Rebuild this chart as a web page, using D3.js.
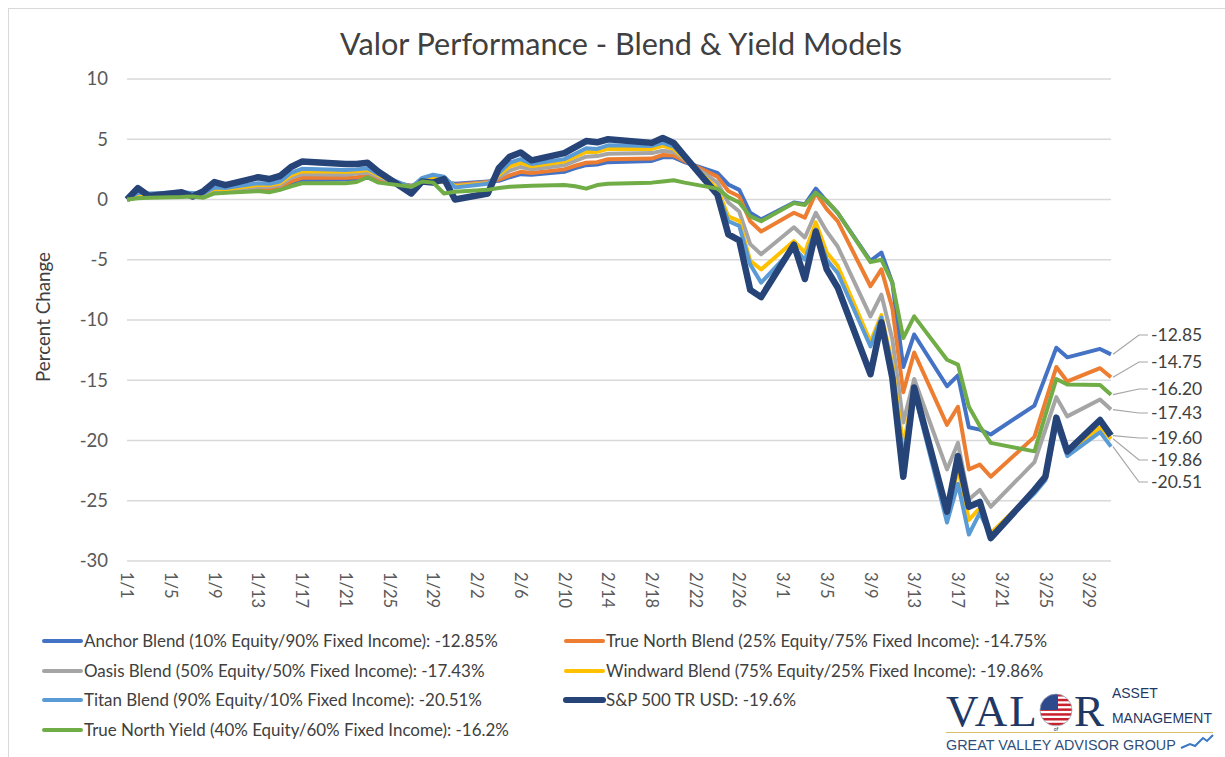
<!DOCTYPE html>
<html>
<head>
<meta charset="utf-8">
<script src="https://cdn.jsdelivr.net/npm/d3@7"></script>
<style>
body{margin:0;background:#fff;}
text{font-family:Lato,"Open Sans",sans-serif;}
</style>
</head>
<body>
<script>
// trading days plotted (3/23 is missing in the source chart)
var dates=["1/1","1/2","1/3","1/6","1/7","1/8","1/9","1/10","1/13","1/14","1/15","1/16","1/17","1/21","1/22","1/23","1/24","1/27","1/28","1/29","1/30","1/31",
  "2/3","2/4","2/5","2/6","2/7","2/10","2/11","2/12","2/13","2/14","2/18","2/19","2/20","2/21","2/24","2/25","2/26","2/27","2/28",
  "3/2","3/3","3/4","3/5","3/6","3/9","3/10","3/11","3/12","3/13","3/16","3/17","3/18","3/19","3/20","3/24","3/25","3/26","3/27","3/30","3/31"]

var anchorBlend=[0,0.2,0.35,0.45,0.5,0.35,0.55,0.6,0.8,0.8,0.95,1.3,1.6,1.65,1.7,1.8,1.6,1.15,1.4,1.45,1.45,1.3,
  1.5,1.55,1.85,2.1,2.05,2.3,2.6,2.85,2.9,3.1,3.2,3.5,3.5,3.1,2.2,1.25,0.8,-1.1,-1.65,
  -0.25,-0.4,0.9,-0.15,-1.1,-5.1,-4.4,-6.9,-13.9,-11.2,-15.5,-14.6,-18.9,-19.1,-19.5,-17.1,-14.7,-12.3,-13.1,-12.4,-12.85]
var trueNorthBlend=[0,0.25,0.35,0.45,0.45,0.35,0.65,0.65,0.9,0.9,1.05,1.5,1.8,1.8,1.85,1.95,1.7,1.1,1.45,1.5,1.5,1.2,
  1.45,1.65,2.0,2.3,2.2,2.5,2.8,3.05,3.1,3.35,3.4,3.7,3.65,3.2,1.9,0.7,0.25,-1.8,-2.65,
  -1.1,-1.5,0.55,-0.8,-1.8,-7.2,-5.8,-9.0,-16.0,-12.7,-18.7,-17.2,-22.4,-22.0,-23.0,-19.7,-16.8,-13.9,-15.1,-14.0,-14.75]
var oasisBlend=[0,0.35,0.4,0.5,0.45,0.4,0.8,0.75,1.05,1.05,1.2,1.8,2.1,2.05,2.15,2.25,1.85,1.05,1.6,1.7,1.65,1.15,
  1.4,1.85,2.4,2.7,2.5,2.85,3.2,3.55,3.6,3.8,3.85,4.05,3.95,3.3,1.4,-0.25,-1.0,-3.7,-4.55,
  -2.3,-3.15,-1.1,-2.65,-3.9,-9.7,-7.9,-11.6,-18.5,-14.9,-22.4,-20.2,-24.9,-24.1,-25.5,-21.8,-19.1,-16.4,-18.0,-16.6,-17.43]
var windwardBlend=[0,0.45,0.45,0.55,0.5,0.45,0.9,0.85,1.2,1.2,1.35,2.0,2.35,2.3,2.35,2.45,2.0,1.0,1.7,1.85,1.8,1.1,
  1.35,2.05,2.75,3.05,2.75,3.15,3.55,3.95,3.95,4.2,4.2,4.45,4.2,3.4,0.9,-1.4,-1.8,-5.1,-5.8,
  -3.45,-4.4,-1.9,-4.4,-5.5,-11.8,-9.6,-13.6,-20.5,-15.6,-26.5,-22.3,-26.6,-25.6,-27.7,-24.2,-23.1,-18.3,-21.0,-18.9,-19.86]
var titanBlend=[0,0.55,0.5,0.6,0.55,0.5,1.0,0.95,1.35,1.3,1.5,2.2,2.55,2.45,2.5,2.6,2.1,1.0,1.8,2.05,1.9,1.0,
  1.3,2.2,3.05,3.35,2.95,3.35,3.8,4.25,4.2,4.5,4.45,4.7,4.4,3.5,0.6,-1.8,-2.2,-5.4,-6.9,
  -4.0,-5.0,-2.5,-5.0,-6.1,-12.2,-9.8,-14.0,-21.5,-16.0,-26.8,-23.6,-27.8,-26.0,-27.9,-24.4,-23.3,-18.6,-21.3,-19.3,-20.51]
var sp500=[0,0.95,0.3,0.6,0.25,0.7,1.45,1.2,1.85,1.7,1.95,2.7,3.15,2.95,2.95,3.05,2.3,0.5,1.5,1.4,1.7,0.0,
  0.5,2.6,3.55,3.9,3.25,3.85,4.35,4.85,4.75,5.0,4.7,5.1,4.7,3.6,0.4,-2.9,-3.4,-7.5,-8.1,
  -3.75,-6.6,-2.65,-5.8,-7.3,-14.5,-10.2,-14.8,-23.0,-15.6,-25.9,-21.3,-25.5,-25.1,-28.1,-24.1,-23.0,-18.1,-20.9,-18.3,-19.6]
var trueNorthYield=[0,0.1,0.15,0.2,0.25,0.15,0.5,0.55,0.7,0.6,0.8,1.1,1.35,1.35,1.45,1.85,1.4,1.05,1.5,1.4,0.5,0.65,
  0.8,0.95,1.05,1.1,1.15,1.2,1.1,0.9,1.2,1.3,1.4,1.5,1.6,1.4,0.9,0.2,-0.25,-1.4,-1.8,
  -0.3,-0.45,0.55,-0.1,-1.1,-5.2,-5.0,-6.9,-11.5,-9.7,-13.3,-13.7,-17.2,-18.8,-20.2,-20.9,-17.9,-14.9,-15.35,-15.4,-16.2]

var seriesNames=["Anchor Blend (10% Equity/90% Fixed Income)","True North Blend (25% Equity/75% Fixed Income)",
  "Oasis Blend (50% Equity/50% Fixed Income)","Windward Blend (75% Equity/25% Fixed Income)",
  "Titan Blend (90% Equity/10% Fixed Income)","S&P 500 TR USD","True North Yield (40% Equity/60% Fixed Income)"]
var seriesValues=[anchorBlend,trueNorthBlend,oasisBlend,windwardBlend,titanBlend,sp500,trueNorthYield]
var yTicks=[10,5,0,-5,-10,-15,-20,-25,-30]
var xTickLabels=["1/1","1/5","1/9","1/13","1/17","1/21","1/25","1/29","2/2","2/6","2/10","2/14","2/18","2/22","2/26","3/1","3/5","3/9","3/13","3/17","3/21","3/25","3/29"]

// styles
var colors=["#4472C4","#ED7D31","#A5A5A5","#FFC000","#5B9BD5","#264478","#70AD47"]
var widths=[4,4,4,4,4,6.5,4]

var toDate=function(s){var p=s.split("/");return new Date(2020,+p[0]-1,+p[1])}

var W=1225,H=757
var svg=d3.select("body").append("svg").attr("width",W).attr("height",H)

svg.append("rect").attr("x",8.5).attr("y",8.5).attr("width",W).attr("height",H)
   .attr("fill","none").attr("stroke","#d9d9d9")

var xScale=d3.scaleTime()
   .domain([new Date(2020,0,1),new Date(2020,2,31)])
   .range([127,1111])
var yScale=d3.scaleLinear().domain([-30,10]).range([561,79])

// gridlines
svg.append("g").selectAll("line").data(yTicks).enter().append("line")
   .attr("x1",127).attr("x2",1111)
   .attr("y1",function(d){return yScale(d)}).attr("y2",function(d){return yScale(d)})
   .attr("stroke","#d9d9d9").attr("stroke-width",1.3)

// y labels
svg.append("g").selectAll("text").data(yTicks).enter().append("text")
   .attr("x",108).attr("y",function(d){return yScale(d)}).attr("dy","0.35em")
   .attr("text-anchor","end").attr("fill","#595959").style("font-size","18.5px")
   .text(function(d){return d})

// x labels
svg.append("g").selectAll("text").data(xTickLabels).enter().append("text")
   .attr("transform",function(d){return "translate("+xScale(toDate(d))+",572) rotate(90)"})
   .attr("dy","0.35em").attr("fill","#595959").style("font-size","16.5px")
   .text(function(d){return d})

// title
var title=svg.append("text").attr("x",621).attr("y",55).attr("text-anchor","middle")
   .attr("fill","#404040").style("font-size","26px")
   .text("Valor Performance - Blend & Yield Models")
var fit=function(sel,w){
  var el=sel.node(),fs=parseFloat(sel.style("font-size"))
  sel.style("font-size",(fs*w/el.getComputedTextLength())+"px")}
fit(title,562)

var ylab=svg.append("text").attr("transform","translate(50,317) rotate(-90)")
   .attr("text-anchor","middle").attr("fill","#404040").style("font-size","19px")
   .text("Percent Change")
fit(ylab,130)

// lines
var line=d3.line()
   .x(function(d){return xScale(d.date)})
   .y(function(d){return yScale(d.v)})
var plot=svg.append("g")
seriesValues.forEach(function(vals,i){
  var pts=vals.map(function(v,j){return {date:toDate(dates[j]),v:v}})
  plot.append("path").datum(pts)
      .attr("d",line).attr("fill","none")
      .attr("stroke",colors[i]).attr("stroke-width",widths[i])
      .attr("stroke-linejoin","round")
})

// end labels with leader lines
var labelOrder=[0,1,6,2,5,3,4]
var labelY=[335,362,389,413,438,460,482]
var lastDate=toDate(dates[dates.length-1])
var ends=svg.append("g")
labelOrder.forEach(function(si,k){
  var v=seriesValues[si][seriesValues[si].length-1]
  var ex=xScale(lastDate)+2,ey=yScale(v)
  ends.append("polyline")
      .attr("points",[[ex,ey],[1139,labelY[k]],[1148,labelY[k]]].join(" "))
      .attr("fill","none").attr("stroke","#a6a6a6").attr("stroke-width",1.2)
  ends.append("text").attr("x",1151).attr("y",labelY[k]).attr("dy","0.35em")
      .attr("fill","#404040").style("font-size","17.5px")
      .text(v.toFixed(2))
})

// legend
var legendPos=[[44,641],[566,641],[44,671],[566,671],[44,700],[566,700],[44,730]]
var legend=svg.append("g")
var legTexts=[]
seriesNames.forEach(function(name,i){
  var p=legendPos[i]
  var vals=seriesValues[i]
  legend.append("line").attr("x1",p[0]).attr("x2",p[0]+37).attr("y1",p[1]).attr("y2",p[1])
        .attr("stroke",colors[i]).attr("stroke-width",i==5?6:4).attr("stroke-linecap","round")
  legTexts.push(legend.append("text").attr("x",p[0]+40).attr("y",p[1]).attr("dy","0.35em")
        .attr("fill","#404040").style("font-size","16px")
        .text(name+": "+(+vals[vals.length-1])+"%"))
})
var fs0=16*414/legTexts[0].node().getComputedTextLength()
legTexts.forEach(function(t){t.style("font-size",fs0+"px")})

// logo
var logo=svg.append("g")
var navy="#1f3864"
logo.append("text").attr("x",946).attr("y",726).attr("fill",navy)
    .style("font-family","'Liberation Serif',serif").style("font-size","45px")
    .style("letter-spacing","2px").text("VAL")
var gx=1056,gy=710,gr=16
var clip=svg.append("defs").append("clipPath").attr("id","globe")
clip.append("circle").attr("cx",gx).attr("cy",gy).attr("r",gr)
var g2=logo.append("g").attr("clip-path","url(#globe)")
g2.append("rect").attr("x",gx-gr).attr("y",gy-gr).attr("width",2*gr).attr("height",2*gr).attr("fill","#fff")
d3.range(7).forEach(function(k){
  g2.append("rect").attr("x",gx-gr).attr("y",gy-gr+k*4.8).attr("width",2*gr).attr("height",2.5).attr("fill","#c8202f")
})
g2.append("rect").attr("x",gx-gr).attr("y",gy-gr).attr("width",gr+2).attr("height",gr).attr("fill","#2c4a8c")
logo.append("circle").attr("cx",gx).attr("cy",gy).attr("r",gr).attr("fill","none").attr("stroke","#9aa6b8").attr("stroke-width",0.8)
logo.append("text").attr("x",1074).attr("y",726).attr("fill",navy)
    .style("font-family","'Liberation Serif',serif").style("font-size","45px").text("R")
var t1=logo.append("text").attr("x",1112).attr("y",698).attr("fill",navy)
    .style("font-family","'Liberation Sans',sans-serif").style("font-size","15px").text("ASSET")
var t2=logo.append("text").attr("x",1112).attr("y",723).attr("fill",navy)
    .style("font-family","'Liberation Sans',sans-serif").style("font-size","15px").text("MANAGEMENT")
fit(t2,100)
t1.style("font-size",t2.style("font-size"))
logo.append("line").attr("x1",946).attr("x2",1213).attr("y1",732.5).attr("y2",732.5).attr("stroke","#d6bd6a")
logo.append("text").attr("x",gx).attr("y",731).attr("fill",navy).attr("text-anchor","middle")
    .style("font-size","5px").text("of")
var t3=logo.append("text").attr("x",946).attr("y",750).attr("fill","#2f4f78")
    .style("font-family","'Liberation Sans',sans-serif").style("font-size","14px").text("GREAT VALLEY ADVISOR GROUP")
fit(t3,230)
logo.append("polyline").attr("points","1181,748 1190,744 1195,746 1203,738 1207,741 1213,735")
    .attr("fill","none").attr("stroke","#3a78c2").attr("stroke-width",2)
</script>
</body>
</html>
